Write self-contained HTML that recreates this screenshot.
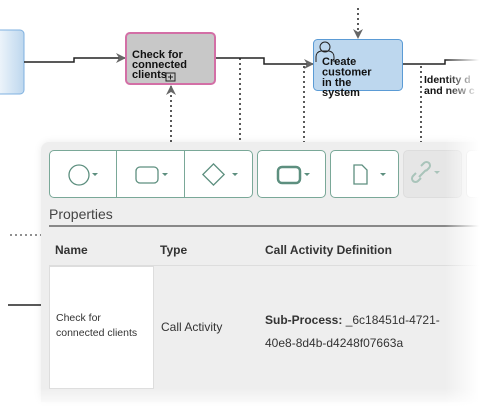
<!DOCTYPE html>
<html><head><meta charset="utf-8"><style>
html,body{margin:0;padding:0;width:479px;height:409px;overflow:hidden;background:#fff;font-family:"Liberation Sans","DejaVu Sans",sans-serif}
.a{position:absolute}
.panel{left:41px;top:142px;width:460px;height:260px;background:#eeeeee;border-radius:8px 0 0 0;box-shadow:0 0 8px rgba(0,0,0,.08)}
.btn{position:absolute;top:150px;height:48px;border:1px solid #7aa898;border-radius:5px;background:#fff;box-sizing:border-box}
.t{position:absolute;color:#333;white-space:nowrap}
.fadeR{left:445px;top:0;width:34px;height:409px;background:linear-gradient(to right,rgba(255,255,255,0),#fff)}
.fadeB{left:0;top:388px;width:479px;height:21px;background:linear-gradient(to bottom,rgba(255,255,255,0),#fff)}
</style></head><body>
<svg class="a" style="left:0;top:0" width="479" height="142">
 <defs>
  <marker id="ar" markerWidth="10" markerHeight="10" refX="9" refY="5" orient="auto" markerUnits="userSpaceOnUse"><path d="M0,0 L10,5 L0,10 L3,5 Z" fill="#666"/></marker>
  <linearGradient id="lb" x1="0" x2="1"><stop offset="0" stop-color="#fff"/><stop offset="1" stop-color="#bdd7ee"/></linearGradient>
 </defs>
 <rect x="-10" y="30" width="34" height="64" rx="4" fill="url(#lb)" stroke="#7fb1e0"/>
 <polyline points="24,62 74,62 74,58 125,58" fill="none" stroke="#222" stroke-width="1.5" marker-end="url(#ar)"/>
 <polyline points="215,58 264,58 264,64 313,64" fill="none" stroke="#222" stroke-width="1.5" marker-end="url(#ar)"/>
 <polyline points="403,64 445,64 445,60 479,60" fill="none" stroke="#222" stroke-width="1.5"/>
 <g stroke="#222" stroke-width="1.5" stroke-dasharray="2,3" fill="none">
  <line x1="240" y1="58" x2="240" y2="142"/>
  <line x1="171" y1="142" x2="171" y2="86" marker-end="url(#ar)"/>
  <line x1="304" y1="66" x2="304" y2="142"/>
  <line x1="421" y1="66" x2="421" y2="142"/>
  <line x1="358" y1="8" x2="358" y2="38" marker-end="url(#ar)"/>
 </g>
 <rect x="126" y="33" width="89" height="51" rx="4" fill="#c8c8c8" stroke="#d36fa6" stroke-width="2"/>
 <rect x="166" y="73" width="9" height="8" fill="none" stroke="#222"/>
 <path d="M168,77 h5 M170.5,74.5 v5" stroke="#222"/>
 <rect x="313.5" y="39.5" width="89" height="51" rx="4" fill="#bdd7ee" stroke="#5b9bd5"/>
 <circle cx="325" cy="47" r="5" fill="none" stroke="#222"/>
 <path d="M316,62 v-5 q0,-5 5,-6 h8 q5,1 5,6 v5" fill="none" stroke="#222"/>
 <g font-weight="bold" font-size="11" fill="#111">
  <text x="132" y="58">Check for</text><text x="132" y="68">connected</text><text x="132" y="78">clients</text>
  <text x="322" y="65">Create</text><text x="322" y="75.5">customer</text><text x="322" y="86">in the</text><text x="322" y="96">system</text>
  <text x="424" y="83" font-size="10.5">Identity d</text><text x="424" y="94" font-size="10.5">and new c</text>
 </g>
</svg>
<svg class="a" style="left:0;top:230px" width="41" height="80"><line x1="10" y1="5" x2="41" y2="5" stroke="#222" stroke-dasharray="2,3"/><line x1="8" y1="75" x2="41" y2="75" stroke="#222" stroke-width="1.5"/></svg>
<div class="a panel"></div>
<div class="btn" style="left:49px;width:204px"></div>
<div class="a" style="left:116px;top:150px;width:1px;height:48px;background:#7aa898"></div>
<div class="a" style="left:184px;top:150px;width:1px;height:48px;background:#7aa898"></div>
<div class="btn" style="left:257px;width:69px"></div>
<div class="btn" style="left:330px;width:69px"></div>
<div class="btn" style="left:403px;width:59px;background:#e6e6e6;border-color:#ddd"></div>
<div class="btn" style="left:466px;width:30px;border-color:#ddd"></div>
<svg class="a" style="left:49px;top:150px" width="420" height="48">
 <g fill="none" stroke="#5d8f7f" stroke-width="1.3">
  <circle cx="30" cy="25" r="10"/>
  <rect x="87" y="17" width="22" height="16" rx="4"/>
  <rect x="157" y="17" width="15" height="15" transform="rotate(45 164.5 24.5)"/>
  <rect x="229" y="17" width="22" height="16" rx="4" stroke-width="2.5"/>
  <path d="M305,15 h8 l5,5 v14 h-13 z"/>
 </g>
 <g fill="#5d8f7f"><path d="M43,23 h6 l-3,3z M113,23 h6 l-3,3z M183,23 h6 l-3,3z M255,23 h6 l-3,3z M331,23 h6 l-3,3z"/></g>
 <g fill="none" stroke="#a9c4ba" stroke-width="2"><path d="M372,28 l-3,3 a3,3 0 0 1 -5,-5 l3,-3 M377,21 l3,-3 a3,3 0 0 0 -5,-5 l-3,3 M370,27 l7,-7"/></g>
 <path d="M385,21 h6 l-3,3z" fill="#a9c4ba"/>
</svg>
<div class="t" style="left:49px;top:206px;font-size:14px;color:#444">Properties</div>
<div class="a" style="left:49px;top:225px;width:430px;height:2px;background:#888"></div>
<div class="t" style="left:55px;top:243px;font-size:12px;font-weight:bold">Name</div>
<div class="t" style="left:160px;top:243px;font-size:12px;font-weight:bold">Type</div>
<div class="t" style="left:265px;top:243px;font-size:12px;font-weight:bold">Call Activity Definition</div>
<div class="a" style="left:49px;top:265px;width:430px;height:1px;background:#ddd"></div>
<div class="a" style="left:49px;top:266px;width:105px;height:123px;background:#fff;border:1px solid #ddd;box-sizing:border-box"></div>
<div class="t" style="left:56px;top:311px;font-size:10.5px;line-height:15px">Check for<br>connected clients</div>
<div class="t" style="left:161px;top:320px;font-size:12px">Call Activity</div>
<div class="t" style="left:265px;top:309px;font-size:12px;line-height:23px"><b>Sub-Process:</b> _6c18451d-4721-<br>40e8-8d4b-d4248f07663a</div>
<div class="a fadeR"></div>
<div class="a fadeB"></div>
</body></html>
